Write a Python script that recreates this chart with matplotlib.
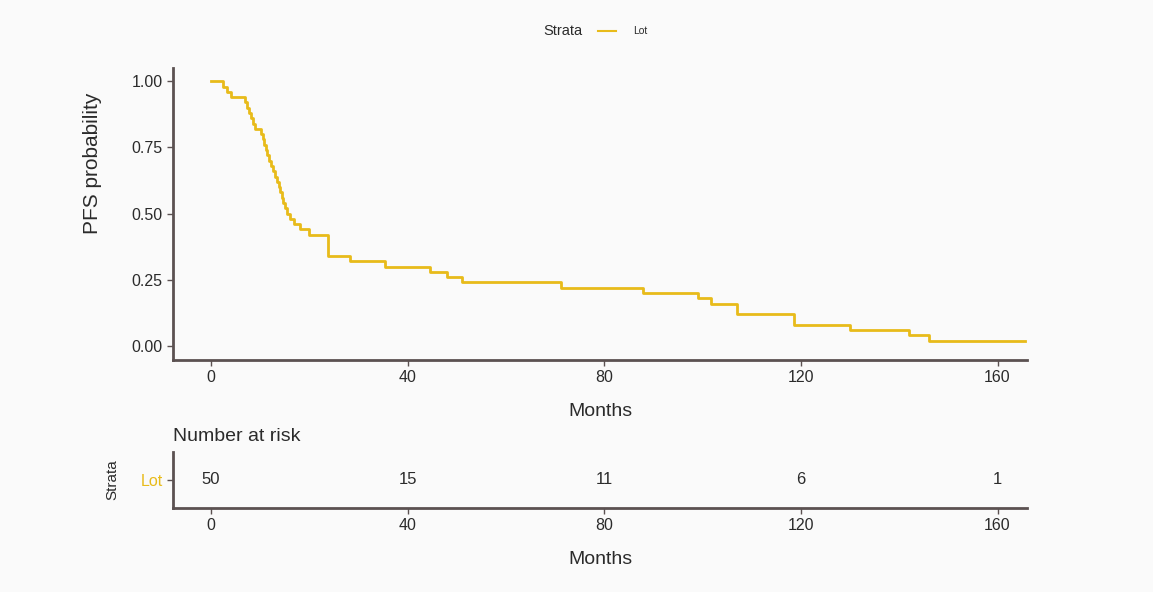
import numpy as np
from matplotlib import pyplot as plt

plt.rcParams['font.family'] = ['Liberation Sans', 'DejaVu Sans']

# Kaplan-Meier steps (months, survival after event)
times = [0, 2.5, 3.2, 4.0, 7.0, 7.4, 7.8, 8.2, 8.6, 9.0, 10.3, 10.6, 10.9, 11.2,
         11.5, 11.9, 12.3, 12.7, 13.1, 13.5, 13.8, 14.1, 14.4, 14.7, 15.0, 15.4,
         16.0, 17.0, 18.2, 20.0, 23.8, 28.3, 35.4, 44.5, 48.0, 51.0, 71.3, 87.8,
         99.0, 101.8, 107.0, 118.7, 130.0, 142.0, 146.0, 165.5]
surv = [1.00, 0.98, 0.96, 0.94, 0.92, 0.90, 0.88, 0.86, 0.84, 0.82, 0.80, 0.78,
        0.76, 0.74, 0.72, 0.70, 0.68, 0.66, 0.64, 0.62, 0.60, 0.58, 0.56, 0.54,
        0.52, 0.50, 0.48, 0.46, 0.44, 0.42, 0.34, 0.32, 0.30, 0.28, 0.26, 0.24,
        0.22, 0.20, 0.18, 0.16, 0.12, 0.08, 0.06, 0.04, 0.02, 0.02]

risk_times = [0, 40, 80, 120, 160]
risk_n = [50, 15, 11, 6, 1]

col = '#E8BB1A'
spine_col = '#5b5151'
txt_col = '#2b2b2b'
bg = '#fafafa'

fig = plt.figure(figsize=(11.53, 5.92), dpi=100, facecolor=bg)
W, H = 1153, 592

def box(l, t, r, b):
    return [l / W, 1 - b / H, (r - l) / W, (b - t) / H]

xlim = (-7.7, 166.0)

ax = fig.add_axes(box(173, 68, 1027, 360))
ax.set_facecolor(bg)
ax.step(times, surv, where='post', color=col, lw=2.0)
ax.set_xlim(*xlim)
ax.set_ylim(-0.053, 1.05)
ax.set_xticks([0, 40, 80, 120, 160])
ax.set_yticks([0, 0.25, 0.5, 0.75, 1.0])
ax.set_yticklabels(['0.00', '0.25', '0.50', '0.75', '1.00'])
for s in ['top', 'right']:
    ax.spines[s].set_visible(False)
for s in ['left', 'bottom']:
    ax.spines[s].set_color(spine_col)
    ax.spines[s].set_linewidth(2)
ax.tick_params(colors=spine_col, labelcolor=txt_col, labelsize=11.5, length=4, width=1)
ax.set_xlabel('Months', fontsize=14, color=txt_col, labelpad=13)

fig.text(93 / W, 1 - 163 / H, 'PFS probability', rotation=90, fontsize=15,
         color=txt_col, ha='center', va='center')

# legend on top
fig.text(563 / W, 1 - 31 / H, 'Strata', fontsize=10.5, color=txt_col, ha='center', va='center')
fig.add_artist(plt.Line2D([598 / W, 616 / W], [1 - 31 / H, 1 - 31 / H], color=col, lw=1.5))
fig.text(640 / W, 1 - 31 / H, 'Lot', fontsize=7.5, color=txt_col, ha='center', va='center')

# risk table
rx = fig.add_axes(box(173, 452, 1027, 508))
rx.set_facecolor(bg)
for t, n in zip(risk_times, risk_n):
    rx.text(t, 0.5, str(n), ha='center', va='center', fontsize=12, color=txt_col)
rx.set_xlim(*xlim)
rx.set_ylim(0, 1)
rx.set_xticks(risk_times)
rx.set_yticks([0.5])
rx.set_yticklabels(['Lot'])
for s in ['top', 'right']:
    rx.spines[s].set_visible(False)
for s in ['left', 'bottom']:
    rx.spines[s].set_color(spine_col)
    rx.spines[s].set_linewidth(2)
rx.tick_params(colors=spine_col, labelcolor=txt_col, labelsize=11.5, length=4, width=1)
rx.get_yticklabels()[0].set_color(col)
rx.set_xlabel('Months', fontsize=14, color=txt_col, labelpad=13)
rx.set_title('Number at risk', loc='left', fontsize=14, color=txt_col, pad=8, x=0.0)
fig.text(112 / W, 1 - 480 / H, 'Strata', rotation=90, fontsize=11, color=txt_col,
         ha='center', va='center')

fig.savefig('out.png', dpi=100, facecolor=bg)
